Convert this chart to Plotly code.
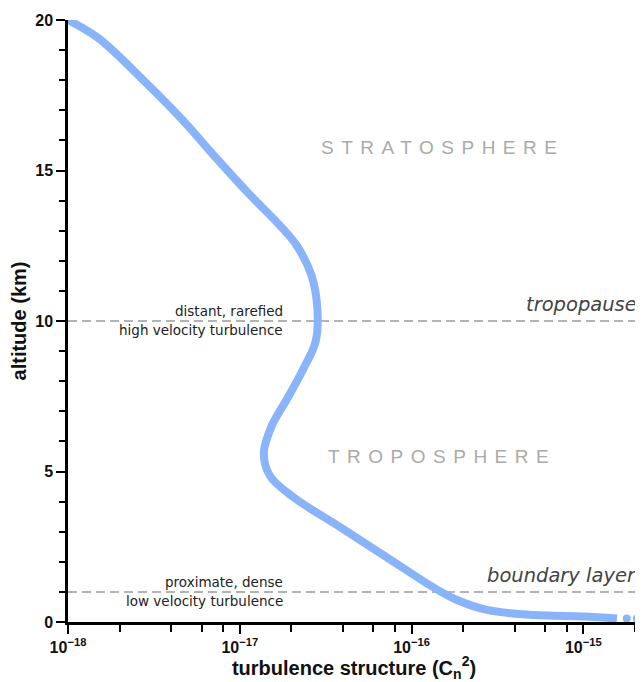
import plotly.graph_objects as go

# ---- data ----
altitude_km = [20.0, 19.4, 17.95, 16.7, 15.45, 14.25, 13.1, 12.5, 11.5, 10.4, 9.3,
               8.4, 7.4, 6.5, 5.6, 4.85, 4.15, 3.15, 2.15, 1.15, 0.73, 0.40, 0.23,
               0.18, 0.12]
cn2 = [1.0e-18, 1.5e-18, 2.8e-18, 4.6e-18, 7.2e-18, 1.12e-17, 1.76e-17, 2.15e-17, 2.62e-17,
       2.83e-17, 2.76e-17, 2.34e-17, 1.88e-17, 1.53e-17, 1.38e-17,
       1.50e-17, 2.05e-17, 3.84e-17, 7.18e-17, 1.34e-16, 1.84e-16, 2.75e-16, 5.13e-16,
       1.0e-15, 1.57e-15]
tail_cn2 = [1.79e-15, 2.05e-15]
tail_alt = [0.12, 0.12]

x_major_vals = [1e-18, 1e-17, 1e-16, 1e-15]
x_major_text = ["10<sup>−18</sup>", "10<sup>−17</sup>", "10<sup>−16</sup>", "10<sup>−15</sup>"]
x_minor_vals = [m * 10.0 ** e for e in (-18, -17, -16, -15) for m in (2, 4, 6, 8)]
y_major_vals = [0, 5, 10, 15, 20]
y_minor_vals = list(range(0, 21))

boundary_layers = [10, 1]
layer_names = ["tropopause", "boundary layer"]
upper_notes = ["distant, rarefied", "proximate, dense"]
lower_notes = ["high velocity turbulence", "low velocity turbulence"]
region_names = ["STRATOSPHERE", "TROPOSPHERE"]
region_alt = [15.78, 5.51]

LINE = "#89b4fa"
PW = 572.0  # plot width in px

fig = go.Figure()
fig.add_trace(go.Scatter(x=cn2, y=altitude_km, mode="lines",
                         line=dict(color=LINE, width=8, shape="spline", smoothing=1.0),
                         hoverinfo="skip", showlegend=False))
fig.add_trace(go.Scatter(x=tail_cn2, y=tail_alt, mode="markers",
                         marker=dict(color=LINE, size=8), cliponaxis=True,
                         hoverinfo="skip", showlegend=False))

for yv in boundary_layers:
    fig.add_shape(type="line", xref="paper", x0=0, x1=1, yref="y", y0=yv, y1=yv,
                  line=dict(color="#b3b3b3", width=2, dash="9px,5px"), layer="below")

note_font = dict(family="DejaVu Sans", size=13.5, color="#222222")
for yv, up, lo in zip(boundary_layers, upper_notes, lower_notes):
    fig.add_annotation(text=up, xref="paper", x=217 / PW, xanchor="right",
                       yref="y", y=yv + 0.32, yanchor="middle", showarrow=False, font=note_font)
    fig.add_annotation(text=lo, xref="paper", x=217 / PW, xanchor="right",
                       yref="y", y=yv - 0.30, yanchor="middle", showarrow=False, font=note_font)

for yv, nm in zip(boundary_layers, layer_names):
    fig.add_annotation(text="<i>" + nm + "</i>", xref="paper", x=571 / PW,
                       xanchor="right", yref="y", y=yv + 0.55, yanchor="middle",
                       showarrow=False,
                       font=dict(family="DejaVu Sans", size=19.5, color="#444444"))

for yv, nm in zip(region_alt, region_names):
    fig.add_annotation(text='<span style="letter-spacing:7.5px">' + nm + "</span>",
                       xref="paper", x=374 / PW, xanchor="center",
                       yref="y", y=yv, yanchor="middle", showarrow=False,
                       font=dict(family="Liberation Sans", size=19, color="#aaaaaa"))

axis_font = dict(family="Liberation Sans", size=16, color="#111111", weight="bold")
title_font = dict(family="Liberation Sans", size=20, color="#111111", weight="bold")
fig.update_xaxes(type="log", range=[-18, -14.67],
                 tickmode="array", tickvals=x_major_vals, ticktext=x_major_text,
                 ticks="outside", ticklen=9, tickwidth=2, tickcolor="black",
                 minor=dict(tickmode="array", tickvals=x_minor_vals, ticks="outside",
                            ticklen=7, tickwidth=1.5, tickcolor="black", showgrid=False),
                 showline=True, linewidth=2.5, linecolor="black", showgrid=False,
                 zeroline=False, tickfont=axis_font, automargin=False,
                 title=dict(text="turbulence structure (C<sub>n</sub><sup>2</sup>)",
                            font=title_font, standoff=4))
fig.update_yaxes(range=[0, 20], tickmode="array", tickvals=y_major_vals,
                 ticks="outside", ticklen=9, tickwidth=2, tickcolor="black",
                 minor=dict(tickmode="array", tickvals=y_minor_vals, ticks="outside",
                            ticklen=6, tickwidth=1.5, tickcolor="black", showgrid=False),
                 showline=True, linewidth=2.5, linecolor="black", showgrid=False,
                 zeroline=False, tickfont=axis_font, automargin=False,
                 title=dict(text="altitude (km)", font=title_font, standoff=8))

# page body has an 8px margin, so the figure is 8px smaller and shifted
fig.update_layout(width=635, height=674, margin=dict(l=60, r=3, t=12, b=60),
                  paper_bgcolor="white", plot_bgcolor="white", showlegend=False)

fig.write_html("out.html")
